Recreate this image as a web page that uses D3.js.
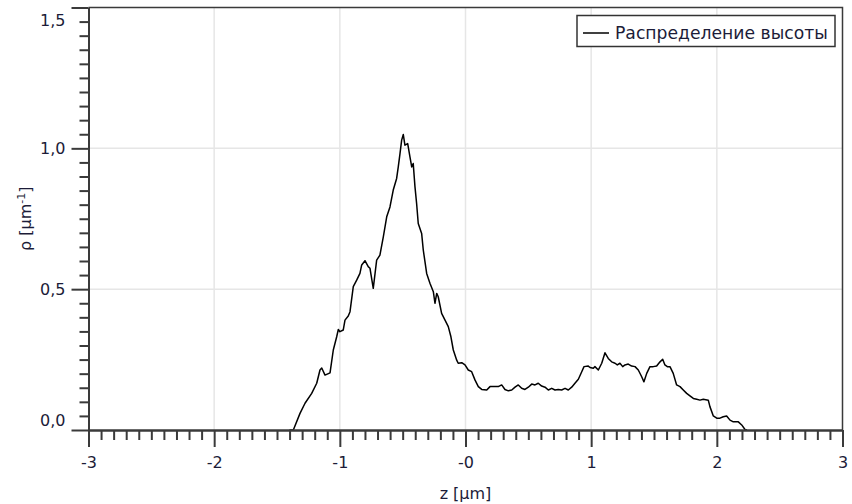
<!DOCTYPE html>
<html>
<head>
<meta charset="utf-8">
<script src="https://cdn.jsdelivr.net/npm/d3@7"></script>
<style>
  html,body{margin:0;padding:0;background:#fff;}
  svg{display:block;}
  text{font-family:"DejaVu Sans",sans-serif;}
</style>
</head>
<body>
<div id="chart"></div>
<script>
// данные кривой (z в мкм, плотность в мкм^-1)
const zVals=[-1.401,-1.370,-1.317,-1.277,-1.224,-1.184,-1.158,-1.144,-1.118,-1.078,-1.052,-1.025,-1.012,-0.999,-0.973,-0.959,-0.933,-0.919,-0.893,-0.866,-0.840,-0.826,-0.800,-0.774,-0.760,-0.734,-0.707,-0.681,-0.654,-0.627,-0.601,-0.575,-0.548,-0.535,-0.521,-0.508,-0.495,-0.482,-0.460,-0.442,-0.428,-0.416,-0.402,-0.389,-0.376,-0.349,-0.336,-0.309,-0.283,-0.256,-0.243,-0.229,-0.217,-0.190,-0.163,-0.137,-0.116,-0.097,-0.070,-0.058,-0.030,-0.004,0.022,0.049,0.076,0.102,0.129,0.169,0.195,0.235,0.261,0.288,0.314,0.341,0.368,0.394,0.420,0.447,0.473,0.500,0.527,0.553,0.579,0.606,0.633,0.659,0.686,0.712,0.738,0.765,0.792,0.818,0.845,0.871,0.898,0.925,0.943,0.977,0.991,1.017,1.030,1.057,1.084,1.110,1.136,1.163,1.190,1.208,1.229,1.251,1.269,1.295,1.322,1.349,1.375,1.402,1.420,1.442,1.468,1.494,1.521,1.548,1.569,1.587,1.606,1.627,1.653,1.680,1.707,1.733,1.760,1.786,1.813,1.840,1.866,1.892,1.932,1.945,1.972,1.999,2.025,2.051,2.078,2.105,2.131,2.171,2.198,2.224,2.240];
const rhoVals=[0,0,0.059,0.095,0.130,0.166,0.213,0.220,0.195,0.203,0.284,0.331,0.357,0.349,0.355,0.390,0.405,0.420,0.509,0.532,0.556,0.586,0.601,0.580,0.574,0.503,0.603,0.621,0.686,0.757,0.792,0.852,0.893,0.934,0.982,1.029,1.049,1.011,1.017,0.970,0.934,0.946,0.863,0.804,0.733,0.698,0.639,0.556,0.521,0.491,0.450,0.485,0.473,0.414,0.390,0.367,0.331,0.284,0.248,0.237,0.239,0.231,0.213,0.207,0.177,0.154,0.144,0.142,0.154,0.154,0.154,0.160,0.144,0.139,0.142,0.152,0.160,0.148,0.144,0.152,0.163,0.160,0.166,0.156,0.152,0.142,0.148,0.142,0.144,0.142,0.148,0.142,0.152,0.166,0.180,0.207,0.225,0.227,0.222,0.219,0.225,0.213,0.237,0.274,0.254,0.242,0.237,0.231,0.237,0.225,0.231,0.234,0.227,0.225,0.213,0.189,0.171,0.201,0.225,0.225,0.227,0.242,0.251,0.231,0.225,0.225,0.201,0.160,0.154,0.142,0.130,0.121,0.112,0.109,0.106,0.109,0.106,0.083,0.050,0.042,0.042,0.047,0.050,0.035,0.029,0.029,0.018,0.002,0];

const xTicks=[-3,-2,-1,0,1,2,3];
const xTickLabels=["-3","-2","-1","-0","1","2","3"];
const yTicks=[0,0.5,1.0,1.5];
const yTickLabels=["0,0","0,5","1,0","1,5"];
const seriesName="Распределение высоты";

const W=852,H=504;
const L=88.5,R=842.5,T=7.5,B=430;
const AX="#3a3a3a",TXT="#1c1c38",GRID="#e6e6e6";

const svg=d3.select("#chart").append("svg").attr("width",W).attr("height",H);

const x=d3.scaleLinear().domain([-3,3]).range([L,R]);
const y=d3.scaleLinear().domain([0,1.5]).range([B,T]);

// ── СЕТКА ─────────────────────────────────────────────
svg.append("g").selectAll("line").data(xTicks.slice(1,-1)).join("line")
  .attr("x1",d=>x(d)).attr("x2",d=>x(d)).attr("y1",T).attr("y2",B)
  .attr("stroke",GRID).attr("stroke-width",1.5);
svg.append("g").selectAll("line").data(yTicks.slice(1,-1)).join("line")
  .attr("x1",L).attr("x2",R).attr("y1",d=>y(d)).attr("y2",d=>y(d))
  .attr("stroke",GRID).attr("stroke-width",1.5);

// ── РАМКА (верх/право) ────────────────────────────────
svg.append("path").attr("fill","none").attr("stroke",AX).attr("stroke-width",1.5)
  .attr("d",`M${L},${T} H${R} V${B}`);

// ── КРИВАЯ ────────────────────────────────────────────
const line=d3.line().x((d,i)=>x(zVals[i])).y((d,i)=>y(rhoVals[i]));
svg.append("path").datum(zVals).attr("fill","none").attr("stroke","#000")
  .attr("stroke-width",1.5).attr("stroke-linejoin","round").attr("d",line);

// ── ОСИ ───────────────────────────────────────────────
function styleAxis(g){
  g.select(".domain").attr("stroke",AX).attr("stroke-width",2);
  g.selectAll(".tick line").attr("stroke",AX).attr("stroke-width",2);
  g.selectAll(".tick text").attr("fill",TXT).attr("font-family","'DejaVu Sans',sans-serif").attr("font-size",16);
}
const xMinor=d3.range(-30,31).filter(k=>k%10!==0).map(k=>k/10);
const yMinor=d3.range(0,31).filter(k=>k%10!==0).map(k=>k/20);

svg.append("g").attr("transform",`translate(0,${B})`)
  .call(d3.axisBottom(x).tickValues(xMinor).tickSize(10).tickSizeOuter(0).tickFormat(""))
  .call(styleAxis);
svg.append("g").attr("transform",`translate(0,${B})`)
  .call(d3.axisBottom(x).tickValues(xTicks).tickSize(17).tickSizeOuter(0).tickPadding(10)
    .tickFormat((d,i)=>xTickLabels[i]))
  .call(styleAxis);

svg.append("g").attr("transform",`translate(${L},0)`)
  .call(d3.axisLeft(y).tickValues(yMinor).tickSize(9).tickSizeOuter(0).tickFormat(""))
  .call(styleAxis);
const yAx=svg.append("g").attr("transform",`translate(${L},0)`)
  .call(d3.axisLeft(y).tickValues(yTicks).tickSize(17).tickSizeOuter(0).tickPadding(6)
    .tickFormat((d,i)=>yTickLabels[i]))
  .call(styleAxis);
// подписи у краёв сдвигаются внутрь
yAx.selectAll(".tick text").attr("y",d=>{
  const p=y(d),c=Math.max(T+13,Math.min(B-10,p));
  return c-p;
});

// ── ПОДПИСИ ОСЕЙ ──────────────────────────────────────
svg.append("text").attr("x",(L+R)/2).attr("y",499).attr("text-anchor","middle")
  .attr("font-size",16).attr("fill",TXT).text("z [µm]");

const yt=svg.append("text").attr("transform",`translate(31,${(T+B)/2}) rotate(-90)`)
  .attr("text-anchor","middle").attr("font-size",16).attr("fill",TXT);
yt.append("tspan").text("ρ [µm");
yt.append("tspan").attr("font-size",11).attr("dy",-6).text("-1");
yt.append("tspan").attr("dy",6).text("]");

// ── ЛЕГЕНДА ───────────────────────────────────────────
const lg=svg.append("g");
lg.append("rect").attr("x",577).attr("y",15.5).attr("width",258).attr("height",31)
  .attr("fill","#fff").attr("stroke","#333").attr("stroke-width",1.5);
lg.append("line").attr("x1",583).attr("x2",609).attr("y1",33).attr("y2",33)
  .attr("stroke","#000").attr("stroke-width",1.5);
lg.append("text").attr("x",615).attr("y",39).attr("font-size",17.2).attr("fill",TXT).text(seriesName);
</script>
</body>
</html>
